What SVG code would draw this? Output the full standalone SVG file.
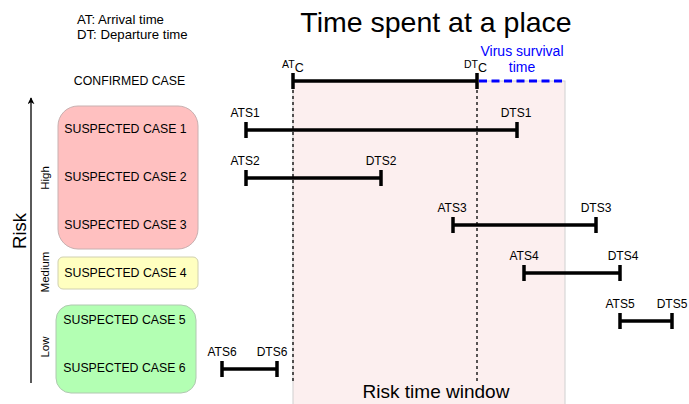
<svg xmlns="http://www.w3.org/2000/svg" width="689" height="404" viewBox="0 0 689 404">
<style>
text{font-family:"Liberation Sans",Arial,Helvetica,sans-serif;fill:#000}
.lbl{font-size:12px;text-anchor:middle}
.case{font-size:12.3px;text-anchor:middle}
.bar{stroke:#000;stroke-width:3.5;fill:none}
.tick{stroke:#000;stroke-width:3.5;fill:none}
.vdash{stroke:#000;stroke-width:1.3;stroke-dasharray:3 3;fill:none}
</style>
<defs>
<marker id="arr" viewBox="0 0 10 10" refX="9" refY="5" markerWidth="7" markerHeight="7" orient="auto" markerUnits="userSpaceOnUse">
<path d="M0,0 L10,5 L0,10 L3,5 Z" fill="#000"/>
</marker>
</defs>
<rect width="689" height="404" fill="#fff"/>

<g id="risk-window">
<rect x="293" y="81" width="272" height="330" fill="#fcefef" stroke="#d0d0d0" stroke-width="1"/>
<text x="436" y="398" font-size="19" text-anchor="middle">Risk time window</text>
</g>

<g id="title">
<text x="436" y="32" font-size="28.5" text-anchor="middle">Time spent at a place</text>
</g>
<g id="legend">
<text x="77" y="23.5" font-size="13.2">AT: Arrival time</text>
<text x="77" y="38.5" font-size="13.2">DT: Departure time</text>
</g>

<g id="axis">
<line x1="31" y1="383" x2="31" y2="98" stroke="#000" stroke-width="1.3" marker-end="url(#arr)"/>
<text transform="translate(26,231) rotate(-90)" font-size="18.5" text-anchor="middle">Risk</text>
<text transform="translate(49,178) rotate(-90)" font-size="11.5" text-anchor="middle">High</text>
<text transform="translate(49,272) rotate(-90)" font-size="11.5" text-anchor="middle">Medium</text>
<text transform="translate(49,347) rotate(-90)" font-size="11.5" text-anchor="middle">Low</text>
</g>

<g id="confirmed-case">
<text x="129.5" y="85" class="case" font-size="12.6">CONFIRMED CASE</text>
</g>
<g id="high-group">
<rect x="58" y="106" width="140" height="143" rx="20" ry="20" fill="#ffc0c0" stroke="#c8b0b0" stroke-width="1"/>
<text x="125.5" y="133" class="case">SUSPECTED CASE 1</text>
<text x="125.5" y="181" class="case">SUSPECTED CASE 2</text>
<text x="125.5" y="229" class="case">SUSPECTED CASE 3</text>
</g>
<g id="medium-group">
<rect x="58" y="257" width="140" height="32" rx="5" ry="5" fill="#ffffc0" stroke="#d0d0b0" stroke-width="1"/>
<text x="125.5" y="277" class="case">SUSPECTED CASE 4</text>
</g>
<g id="low-group">
<rect x="56" y="305" width="140" height="88" rx="15" ry="15" fill="#b3ffb3" stroke="#b0c8b0" stroke-width="1"/>
<text x="124.5" y="324" class="case">SUSPECTED CASE 5</text>
<text x="124.5" y="372" class="case">SUSPECTED CASE 6</text>
</g>

<g id="connectors">
<line class="vdash" x1="293" y1="90" x2="293" y2="384"/>
<line class="vdash" x1="477" y1="90" x2="477" y2="384"/>
<line class="bar" x1="293" y1="81" x2="477" y2="81"/>
<line class="tick" x1="293" y1="73" x2="293" y2="89"/>
<line class="tick" x1="477" y1="73" x2="477" y2="89"/>
<line x1="479" y1="81" x2="565" y2="81" stroke="#0000ff" stroke-width="3" stroke-dasharray="8 4.5"/>
<line class="bar" x1="246" y1="130" x2="517" y2="130"/>
<line class="tick" x1="246" y1="122" x2="246" y2="138"/>
<line class="tick" x1="517" y1="122" x2="517" y2="138"/>
<line class="bar" x1="246" y1="178" x2="381" y2="178"/>
<line class="tick" x1="246" y1="170" x2="246" y2="186"/>
<line class="tick" x1="381" y1="170" x2="381" y2="186"/>
<line class="bar" x1="453" y1="225" x2="596" y2="225"/>
<line class="tick" x1="453" y1="217" x2="453" y2="233"/>
<line class="tick" x1="596" y1="217" x2="596" y2="233"/>
<line class="bar" x1="524" y1="273" x2="620" y2="273"/>
<line class="tick" x1="524" y1="265" x2="524" y2="281"/>
<line class="tick" x1="620" y1="265" x2="620" y2="281"/>
<line class="bar" x1="620" y1="321" x2="672" y2="321"/>
<line class="tick" x1="620" y1="313" x2="620" y2="329"/>
<line class="tick" x1="672" y1="313" x2="672" y2="329"/>
<line class="bar" x1="222" y1="369" x2="277" y2="369"/>
<line class="tick" x1="222" y1="361" x2="222" y2="377"/>
<line class="tick" x1="277" y1="361" x2="277" y2="377"/>
</g>

<g id="labels">
<text x="282" y="68" font-size="10.5">AT<tspan font-size="12.5" dy="4">C</tspan></text>
<text x="464" y="68" font-size="10.5">DT<tspan font-size="12.5" dy="4">C</tspan></text>
<text x="522" y="56" font-size="14" text-anchor="middle" style="fill:#0000ff">Virus survival</text>
<text x="522" y="72" font-size="14" text-anchor="middle" style="fill:#0000ff">time</text>
<text x="245" y="117" class="lbl">ATS1</text>
<text x="516" y="117" class="lbl">DTS1</text>
<text x="245" y="165" class="lbl">ATS2</text>
<text x="381" y="165" class="lbl">DTS2</text>
<text x="452" y="212" class="lbl">ATS3</text>
<text x="596" y="212" class="lbl">DTS3</text>
<text x="524" y="260" class="lbl">ATS4</text>
<text x="623" y="260" class="lbl">DTS4</text>
<text x="620" y="308" class="lbl">ATS5</text>
<text x="672" y="308" class="lbl">DTS5</text>
<text x="222" y="356" class="lbl">ATS6</text>
<text x="272" y="356" class="lbl">DTS6</text>
</g>
</svg>
